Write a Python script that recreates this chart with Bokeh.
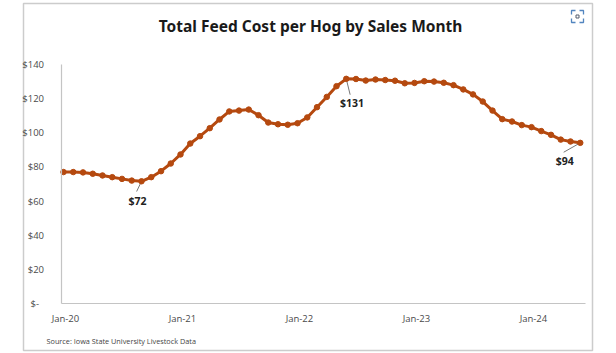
from bokeh.plotting import figure
from bokeh.models import FixedTicker, Label, BoxAnnotation, PolyAnnotation, Range1d
from bokeh.core.properties import value
from bokeh.embed import file_html
from bokeh.resources import INLINE

months = list(range(54))
feed_cost = [77, 77, 76.8, 76, 75, 74, 73, 72, 71.6, 74, 77.5, 82,
             87.3, 93.7, 98, 102.7, 107.8, 112.5, 113, 113.6, 110.3, 106, 105, 104.7,
             105.6, 109, 115, 121, 127.3, 131.6, 131.5, 130.6, 131.2, 130.9, 130.5, 129,
             129.2, 130.2, 130, 129.3, 127.9, 125.4, 122.5, 118.3, 113, 108, 106.6, 104.5,
             103.3, 101, 98.8, 96, 94.9, 94.1]

y_ticks = [0, 20, 40, 60, 80, 100, 120, 140]
y_labels = ["$-  ", "$20", "$40", "$60", "$80", "$100", "$120", "$140"]
x_label_pos = [0.2, 12.2, 24.2, 36.2, 48.2]
x_labels = ["Jan-20", "Jan-21", "Jan-22", "Jan-23", "Jan-24"]

callout_text = ["$72", "$131", "$94"]
callout_x = [7.6, 29.6, 51.4]
callout_y = [60, 117.5, 83.5]
leader_xs = [[8, 7.5], [29, 29.4], [53, 51.3]]
leader_ys = [[71.6, 65.6], [131.6, 122.3], [94.1, 88.6]]

TITLE = "Total Feed Cost per Hog by Sales Month"
SOURCE = "Source: Iowa State University Livestock Data"
LINE = "#b5490f"
GRAY = "#c4c4c4"

W, H = 616, 353
PX_X = 9.75            # pixels per month
PX_Y = 239 / 140       # pixels per dollar
X0, Y0 = 63, 303       # pixel position of first month / of $0

p = figure(width=W, height=H, output_backend="svg", toolbar_location=None,
           x_range=Range1d(-X0 / PX_X, (W - X0) / PX_X),
           y_range=Range1d((Y0 - H) / PX_Y, Y0 / PX_Y),
           min_border=0, background_fill_color="white", border_fill_color="white",
           outline_line_color=None)
p.styles = {"position": "absolute", "left": "0px", "top": "0px"}
p.grid.visible = False

left_x = (60.5 - X0) / PX_X
right_x = (585 - X0) / PX_X
for ax in (p.xaxis[0], p.yaxis[0]):
    ax.axis_line_color = GRAY
    ax.axis_line_width = 1.2
    ax.major_tick_line_color = None
    ax.minor_tick_line_color = None
    ax.major_label_text_font = "Open Sans"
    ax.major_label_text_font_size = "9.5px"
    ax.major_label_text_color = "#4a4a4a"

p.xaxis[0].fixed_location = 0
p.xaxis[0].bounds = (left_x, right_x)
p.xaxis[0].ticker = FixedTicker(ticks=x_label_pos)
p.xaxis[0].major_label_overrides = dict(zip(x_label_pos, x_labels))
p.xaxis[0].major_label_standoff = 2
p.yaxis[0].fixed_location = left_x
p.yaxis[0].bounds = (0, 140)
p.yaxis[0].ticker = FixedTicker(ticks=y_ticks)
p.yaxis[0].major_label_overrides = dict(zip(y_ticks, y_labels))
p.yaxis[0].major_label_standoff = 11

p.multi_line(leader_xs, leader_ys, line_color="#777777", line_width=1)
p.line(months, feed_cost, line_color=LINE, line_width=3)
p.scatter(months, feed_cost, size=5.5, fill_color=LINE, line_color=LINE)
p.text(callout_x, callout_y, text=callout_text, text_font=value("Noto Sans"), text_font_style="bold",
       text_font_size="10.5px", text_color="#222222", text_align="center", text_baseline="middle")

# card frame
p.add_layout(BoxAnnotation(left=23, right=592, top=3, bottom=350,
                           left_units="screen", right_units="screen", top_units="screen", bottom_units="screen",
                           fill_color=None, line_color="#cccccc", line_alpha=1, line_width=1.5, level="underlay"))

p.add_layout(Label(x=310, y=H - 25, x_units="screen", y_units="screen", text=TITLE,
                   text_font="Noto Sans", text_font_style="bold", text_font_size="15.5px",
                   text_color="#1a1a1a", text_align="center", text_baseline="middle"))
p.add_layout(Label(x=46, y=H - 340, x_units="screen", y_units="screen", text=SOURCE,
                   text_font="Open Sans", text_font_size="7.3px",
                   text_color="#444444", text_align="left", text_baseline="middle"))

# scan icon
ICON = "#3f78b8"
corners = [([571, 571, 575], [14, 10, 10]), ([579, 583, 583], [10, 10, 14]),
           ([583, 583, 579], [18, 22, 22]), ([575, 571, 571], [22, 22, 18])]
for xs, ys in corners:
    p.add_layout(PolyAnnotation(xs=xs + [xs[1]], ys=[H - v for v in ys + [ys[1]]],
                                xs_units="screen", ys_units="screen",
                                fill_color=None, line_color=ICON, line_alpha=0.9, line_width=1.3))
p.add_layout(PolyAnnotation(xs=[575.5, 578.5, 578.5, 575.5], ys=[H - 14.5, H - 14.5, H - 17.5, H - 17.5],
                            xs_units="screen", ys_units="screen",
                            fill_color=None, line_color="#555f6e", line_alpha=1, line_width=1))

open("out.html", "w").write(file_html(p, INLINE))
